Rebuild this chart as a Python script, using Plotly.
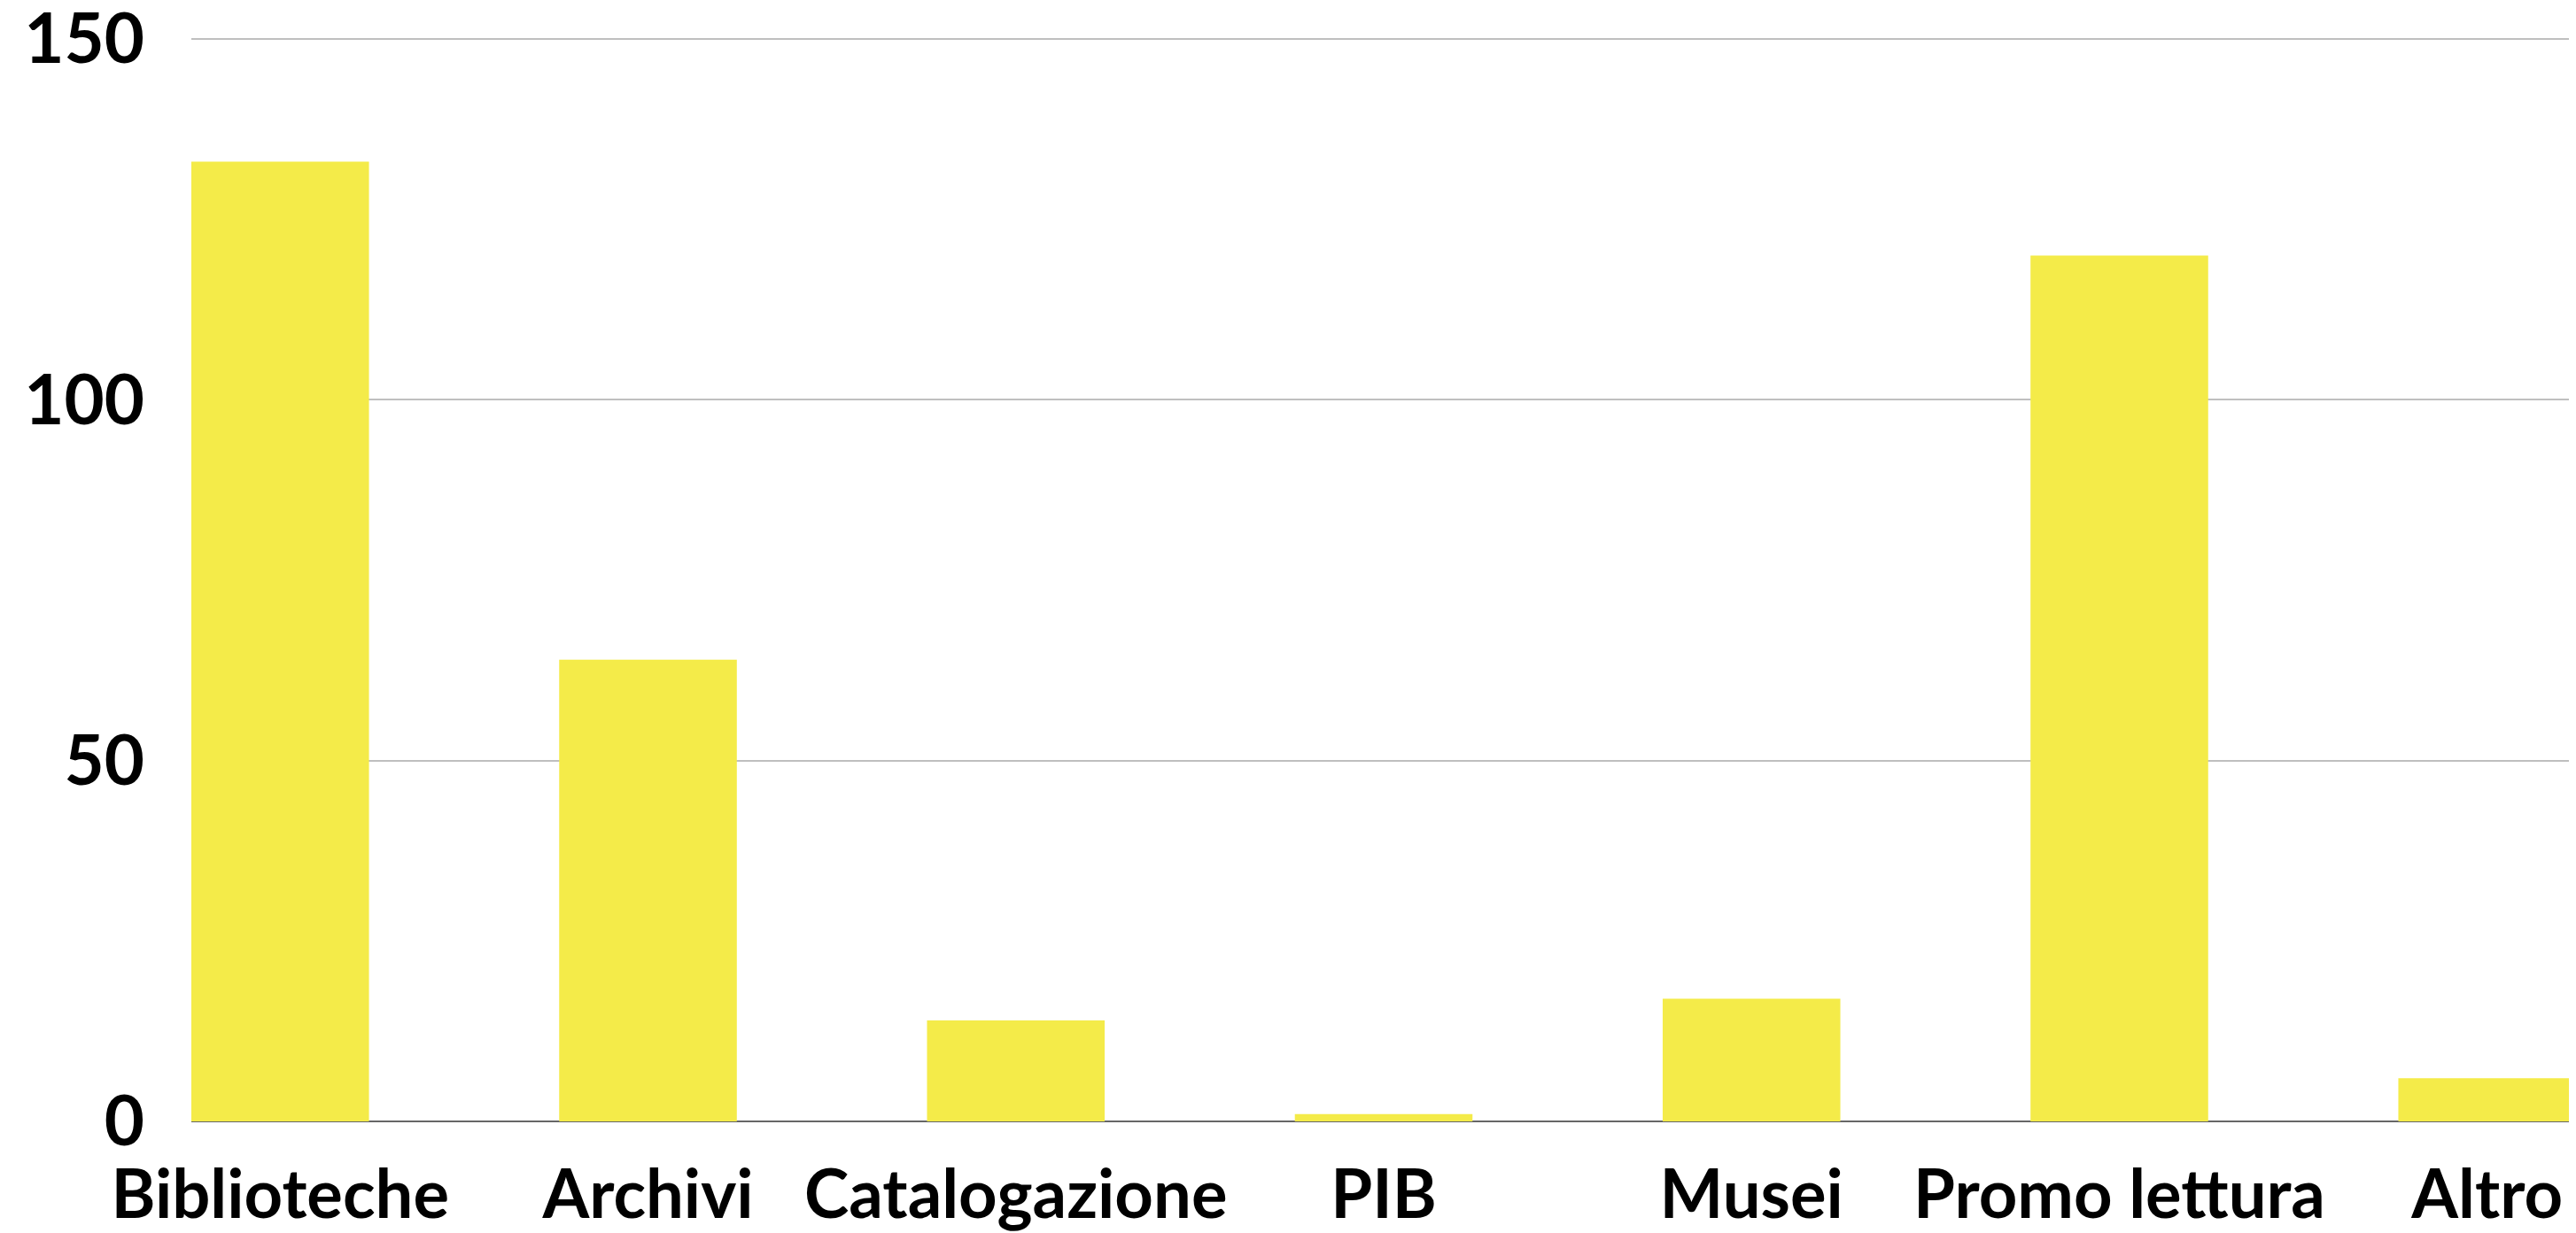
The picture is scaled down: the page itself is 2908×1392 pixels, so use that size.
import plotly.graph_objects as go

categories = ["Biblioteche", "Archivi", "Catalogazione", "PIB", "Musei", "Promo lettura", "Altro"]
values = [133, 64, 14, 1, 17, 120, 6]
y_ticks = [0, 50, 100, 150]

fig = go.Figure(go.Bar(
    x=categories, y=values,
    marker=dict(color="#F4EB49", line=dict(width=0)),
    width=0.483,
))

# the page body has an 8px margin, so the figure is 8px smaller than the window
fig.update_layout(
    width=2900, height=1384,
    margin=dict(l=208, r=0, t=28, b=126, autoexpand=False),
    paper_bgcolor="white", plot_bgcolor="white",
    font=dict(family="Lato", color="black"),
    showlegend=False,
)
fig.update_xaxes(
    range=[-0.2415, 6.2415],
    tickfont=dict(family="Lato", size=76, color="black", weight="bold"),
    showgrid=False, showline=False, ticks="",
    ticklabelstandoff=32,
    ticklabeloverflow="allow",
    automargin=False,
)
fig.update_yaxes(
    range=[0, 151], tickvals=y_ticks,
    tickfont=dict(family="Lato", size=78, color="black", weight="bold"),
    showgrid=True, gridcolor="#BFBFBF", gridwidth=2,
    zeroline=True, zerolinecolor="#666666", zerolinewidth=2,
    showline=False, ticks="",
    ticklabelstandoff=52,
    ticklabeloverflow="allow",
    automargin=False,
)

fig.write_html("out.html")
